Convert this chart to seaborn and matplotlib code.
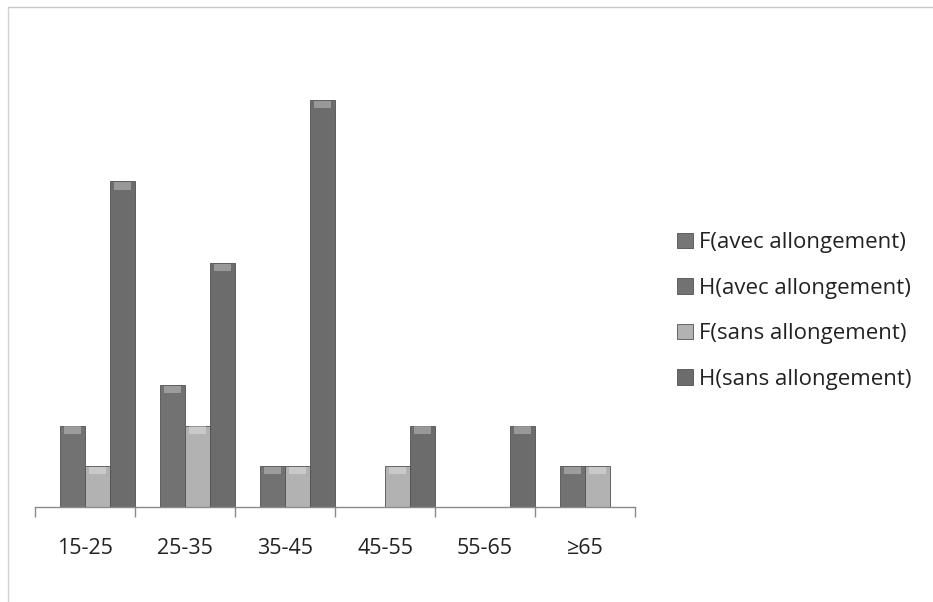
import numpy as np
import pandas as pd
import matplotlib
matplotlib.use("Agg")
import matplotlib.pyplot as plt
from matplotlib.lines import Line2D
import seaborn as sns

# === Data ===
age_groups = ["15-25", "25-35", "35-45", "45-55", "55-65", "≥65"]
series_names = ["F(avec allongement)", "H(avec allongement)",
                "F(sans allongement)", "H(sans allongement)"]
f_avec = [0, 0, 0, 0, 0, 0]
h_avec = [2, 3, 1, 0, 0, 1]
f_sans = [1, 2, 1, 1, 0, 1]
h_sans = [8, 6, 10, 2, 2, 0]

df = pd.DataFrame({
    "age": age_groups * 4,
    "serie": np.repeat(series_names, len(age_groups)),
    "n": f_avec + h_avec + f_sans + h_sans,
})

palette = {
    "F(avec allongement)": "#767676",
    "H(avec allongement)": "#727272",
    "F(sans allongement)": "#b2b2b2",
    "H(sans allongement)": "#6c6c6c",
}

# === Plot ===
sns.set_style("white")
plt.rcParams["font.family"] = ["Open Sans", "DejaVu Sans"]

fig = plt.figure(figsize=(9.33, 6.02), dpi=100)
ax = fig.add_axes([35 / 933, 95 / 602, 600 / 933, 407 / 602])

sns.barplot(data=df, x="age", y="n", hue="serie", order=age_groups,
            hue_order=series_names, palette=palette, width=1.0,
            saturation=1, edgecolor="#505050", linewidth=0.6, ax=ax)

# soft light highlight on top of each bar (bevel look)
for p in ax.patches:
    h = p.get_height()
    if h > 0:
        ax.add_patch(plt.Rectangle((p.get_x() + p.get_width() * 0.15, h - 0.2),
                                   p.get_width() * 0.7, 0.18,
                                   color="white", alpha=0.3, lw=0))

ax.set_xlim(-0.5, len(age_groups) - 0.5)
ax.set_ylim(0, 10)
ax.set_yticks([])
ax.set_xlabel("")
ax.set_ylabel("")
for s in ["top", "right", "left"]:
    ax.spines[s].set_visible(False)
ax.spines["bottom"].set_color("#8a8a8a")
ax.spines["bottom"].set_linewidth(1.0)

ax.set_xticks(range(len(age_groups)))
ax.set_xticklabels(age_groups, fontsize=15.5, color="#222222")
ax.set_xticks(np.arange(-0.5, len(age_groups)), minor=True)
ax.tick_params(axis="x", which="major", bottom=False, length=0, pad=22)
ax.tick_params(axis="x", which="minor", bottom=True, length=7, color="#8a8a8a",
               width=1.0, direction="out")

leg = ax.legend(loc="center left", bbox_to_anchor=((657 - 35) / 600, (507 - 311) / 407),
                frameon=False, fontsize=16, handlelength=0.7, handleheight=0.7,
                handletextpad=0.3, labelspacing=1.1)
for t in leg.get_texts():
    t.set_color("#222222")

# outer frame (top and left edges visible on the scan)
fig.add_artist(Line2D([8 / 933, 1], [1 - 7 / 602, 1 - 7 / 602], color="#c8c8c8", lw=1))
fig.add_artist(Line2D([8 / 933, 8 / 933], [0, 1 - 7 / 602], color="#d2d2d2", lw=1))

fig.savefig("out.png", dpi=100)
